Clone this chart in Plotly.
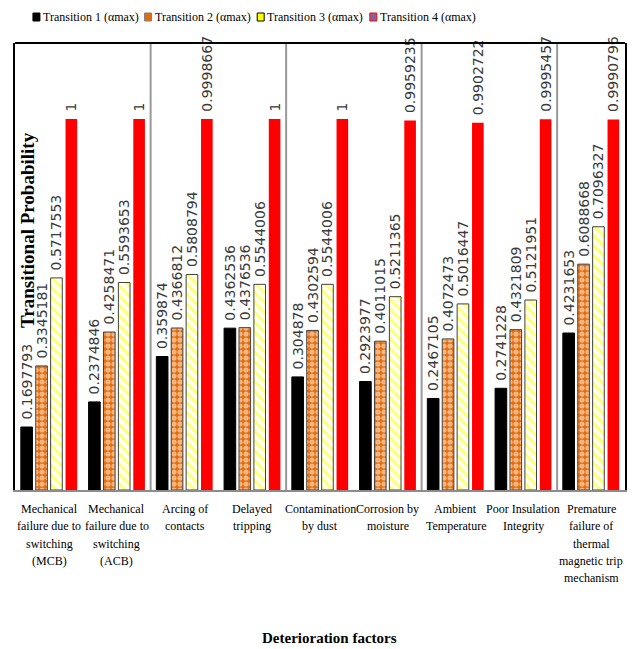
import plotly.graph_objects as go

# Deterioration factors (x categories)
categories = [
    "Mechanical<br>failure due to<br>switching<br>(MCB)",
    "Mechanical<br>failure due to<br>switching<br>(ACB)",
    "Arcing of<br>contacts",
    "Delayed<br>tripping",
    "Contamination<br>by dust",
    "Corrosion by<br>moisture",
    "Ambient<br>Temperature",
    "Poor Insulation<br>Integrity",
    "Premature<br>failure of<br>thermal<br>magnetic trip<br>mechanism",
]

series_names = [
    "Transition 1 (αmax)",
    "Transition 2 (αmax)",
    "Transition 3 (αmax)",
    "Transition 4 (αmax)",
]

# Value labels as printed above each bar
t1_labels = ["0.1697793", "0.2374846", "0.359874", "0.4362536", "0.304878",
             "0.2923977", "0.2467105", "0.2741228", "0.4231653"]
t2_labels = ["0.3345181", "0.4258471", "0.4366812", "0.4376536", "0.4302594",
             "0.4011015", "0.4072473", "0.4321809", "0.6088668"]
t3_labels = ["0.5717553", "0.5593653", "0.5808794", "0.5544006", "0.5544006",
             "0.5211365", "0.5016447", "0.5121951", "0.7096327"]
t4_labels = ["1", "1", "0.9998667", "1", "1",
             "0.9959235", "0.9902722", "0.9995457", "0.9990796"]

all_labels = [t1_labels, t2_labels, t3_labels, t4_labels]

W, H = 637, 649
ML, MR, MT, MB = 15, 10, 43, 159
PW, PH = W - ML - MR, H - MT - MB


def px_x(p):
    return (p - ML) / PW


def px_y(p):
    return (H - MB - p) / PH


label_font = dict(family="DejaVu Sans", size=14, color="#3a3a3a")
serif = "Liberation Serif"

styles = [
    dict(color="#000000", line=dict(color="#000000", width=1)),
    dict(color="#E46C0A", line=dict(color="#404040", width=1),
         pattern=dict(shape=".", fgcolor="#FFFFFF", bgcolor="#E46C0A",
                      size=6, solidity=0.6)),
    dict(color="#FFFF00", line=dict(color="#404040", width=1),
         pattern=dict(shape="\\", fgcolor="#FFFF00", bgcolor="#FFFFFF",
                      size=7, solidity=0.5)),
    dict(color="#FF0000", line=dict(color="#FF0000", width=0)),
]

fig = go.Figure()
for name, labels, style in zip(series_names, all_labels, styles):
    values = [float(v) for v in labels]
    fig.add_trace(go.Bar(
        x=categories,
        y=values,
        name=name,
        marker=style,
        text=["\u00a0" + v for v in labels],
        textposition="outside",
        textangle=-90,
        textfont=label_font,
        constraintext="none",
        cliponaxis=False,
        showlegend=False,
    ))

# Legend row built from the series names
legend_swatches = [
    dict(fill="#000000", line="#000000"),
    dict(fill="#E46C0A", line="#7f7f7f"),
    dict(fill="#FFFF00", line="#000000"),
    dict(fill="#8064A2", line="#FF0000"),
]
legend_x = [33, 145, 258, 371]
annotations = []
shapes = []
for name, sw, lx in zip(series_names, legend_swatches, legend_x):
    shapes.append(dict(type="rect", xref="paper", yref="paper",
                       x0=px_x(lx), x1=px_x(lx + 7),
                       y0=px_y(21), y1=px_y(13),
                       fillcolor=sw["fill"], line=dict(color=sw["line"], width=1)))
    annotations.append(dict(text=name, xref="paper", yref="paper",
                            x=px_x(lx + 8), y=px_y(17), xanchor="left",
                            yanchor="middle", showarrow=False,
                            font=dict(family=serif, size=12, color="#000000")))

# Category labels, one line at a time for wider line spacing
for cat in categories:
    for i, line in enumerate(cat.split("<br>")):
        annotations.append(dict(text=line, xref="x", yref="paper", x=cat,
                                y=px_y(509 + 17.3 * i), xanchor="center",
                                yanchor="middle", showarrow=False,
                                font=dict(family=serif, size=12,
                                          color="#000000")))

# Axis titles
annotations.append(dict(text="<b>Transitional Probability</b>", xref="paper",
                        yref="paper", x=px_x(27), y=px_y(230), textangle=-90,
                        showarrow=False, xanchor="center", yanchor="middle",
                        font=dict(family=serif, size=19, color="#000000")))
annotations.append(dict(text="<b>Deterioration factors</b>", xref="paper",
                        yref="paper", x=px_x(331), y=px_y(638),
                        showarrow=False, xanchor="center", yanchor="middle",
                        font=dict(family=serif, size=15, color="#000000")))

# Group separators and top frame line
for sx in [1.5, 3.5, 5.5, 7.5]:
    shapes.append(dict(type="line", xref="x", yref="paper", x0=sx, x1=sx,
                       y0=0, y1=1, line=dict(color="#999999", width=2),
                       layer="below"))
shapes.append(dict(type="line", xref="paper", yref="paper", x0=0, x1=1,
                   y0=1, y1=1, line=dict(color="#000000", width=2)))

fig.update_layout(
    width=W, height=H,
    margin=dict(l=ML, r=MR, t=MT, b=MB),
    paper_bgcolor="white",
    plot_bgcolor="white",
    barmode="group",
    bargap=0.12,
    bargroupgap=0.22,
    showlegend=False,
    annotations=annotations,
    shapes=shapes,
    xaxis=dict(
        showline=True, linecolor="#8c8c8c", linewidth=2,
        showgrid=False, ticks="", showticklabels=False,
    ),
    yaxis=dict(
        range=[0, 1.205], showline=True, linecolor="#000000", linewidth=2,
        mirror=True, showgrid=False, zeroline=False, showticklabels=False,
        ticks="",
    ),
)

fig.write_html("out.html")
